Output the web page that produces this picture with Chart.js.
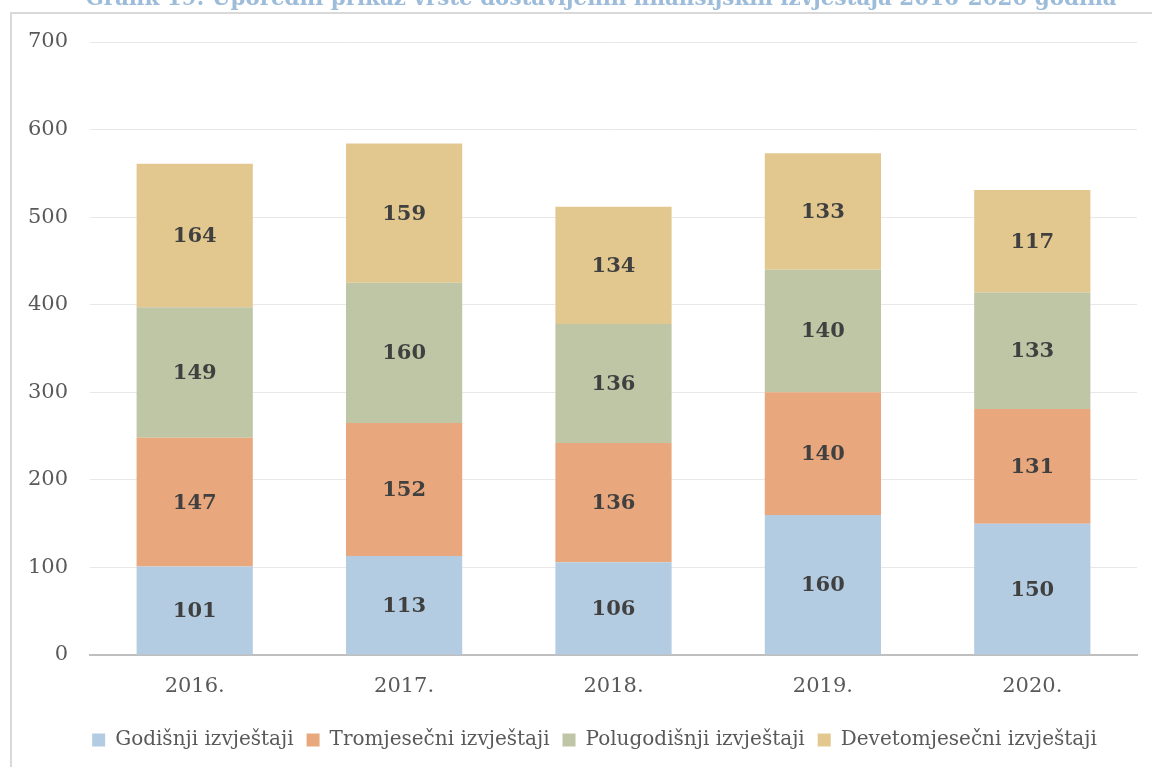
<!DOCTYPE html>
<html>
<head>
<meta charset="utf-8">
<script src="https://cdn.jsdelivr.net/npm/chart.js@4/dist/chart.umd.min.js"></script>
<style>
  html, body { margin: 0; padding: 0; background: #ffffff; }
  #wrap { position: relative; width: 1152px; height: 767px; overflow: hidden; }
  #frame { position: absolute; left: 10px; top: 12px; width: 1200px; height: 800px; border: 2px solid #d9d9d9; box-sizing: border-box; }
  canvas { position: absolute; left: 0; top: 0; }
</style>
</head>
<body>
<div id="wrap">
  <div id="frame"></div>
  <canvas id="c" width="1152" height="767"></canvas>
</div>
<script>
const titleText = "Grafik 19: Uporedni prikaz vrste dostavljenih finansijskih izvještaja 2016-2020 godina";
const categories = ["2016.", "2017.", "2018.", "2019.", "2020."];
const seriesNames = ["Godišnji izvještaji", "Tromjesečni izvještaji", "Polugodišnji izvještaji", "Devetomjesečni izvještaji"];
const godisnji = [101, 113, 106, 160, 150];
const tromjesecni = [147, 152, 136, 140, 131];
const polugodisnji = [149, 160, 136, 140, 133];
const devetomjesecni = [164, 159, 134, 133, 117];
const seriesColors = ["#b4cce1", "#e8a77d", "#bfc6a5", "#e2c88f"];

const FONT = "'DejaVu Serif', serif";

const titlePlugin = {
  id: 'topTitle',
  afterDraw(chart) {
    const ctx = chart.ctx;
    ctx.save();
    ctx.font = "bold 20px " + FONT;
    const w = ctx.measureText(titleText).width;
    const fs = 20 * 1032 / w;
    ctx.font = "bold " + fs.toFixed(2) + "px " + FONT;
    ctx.fillStyle = "#9dbcda";
    ctx.textAlign = "center";
    ctx.textBaseline = "alphabetic";
    ctx.fillText(titleText, 601, 5);
    ctx.restore();
  }
};

const legendShift = {
  id: 'legendShift',
  afterLayout(chart) {
    if (chart.legend) {
      chart.legend.left += 26;
      chart.legend.right += 26;
    }
  }
};

const labelPlugin = {
  id: 'barLabels',
  afterDatasetsDraw(chart) {
    const ctx = chart.ctx;
    ctx.save();
    ctx.font = "bold 21px " + FONT;
    ctx.fillStyle = "#404040";
    ctx.textAlign = "center";
    ctx.textBaseline = "middle";
    chart.data.datasets.forEach((ds, i) => {
      const meta = chart.getDatasetMeta(i);
      meta.data.forEach((el, j) => {
        const y = (el.y + el.base) / 2;
        ctx.fillText(String(ds.data[j]), el.x, y + 1);
      });
    });
    ctx.restore();
  }
};

const allSeries = [godisnji, tromjesecni, polugodisnji, devetomjesecni];

new Chart(document.getElementById('c'), {
  type: 'bar',
  data: {
    labels: categories,
    datasets: allSeries.map((d, i) => ({
      label: seriesNames[i],
      data: d,
      backgroundColor: seriesColors[i],
      borderWidth: 0,
      categoryPercentage: 1.0,
      barPercentage: 0.555
    }))
  },
  options: {
    responsive: false,
    animation: false,
    devicePixelRatio: 1,
    layout: { padding: { top: 42, left: 0, right: 15, bottom: 7 } },
    plugins: {
      title: { display: false },
      tooltip: { enabled: false },
      legend: {
        display: true,
        position: 'bottom',
        labels: {
          font: { family: FONT, size: 20 },
          color: '#595959',
          boxWidth: 13,
          boxHeight: 13,
          padding: 13
        }
      }
    },
    scales: {
      x: {
        stacked: true,
        grid: { display: false, drawTicks: false },
        border: { display: true, color: '#bfbfbf', width: 2 },
        ticks: { font: { family: FONT, size: 21 }, color: '#595959', padding: 19 },
        afterFit(scale) { scale.height = 62; }
      },
      y: {
        stacked: true,
        min: 0,
        max: 700,
        grid: { color: '#e8e8e8', lineWidth: 1, drawTicks: false },
        border: { display: false },
        ticks: { stepSize: 100, font: { family: FONT, size: 21 }, color: '#595959', padding: 22 },
        afterFit(scale) { scale.width = 90; }
      }
    }
  },
  plugins: [titlePlugin, legendShift, labelPlugin]
});
</script>
</body>
</html>
